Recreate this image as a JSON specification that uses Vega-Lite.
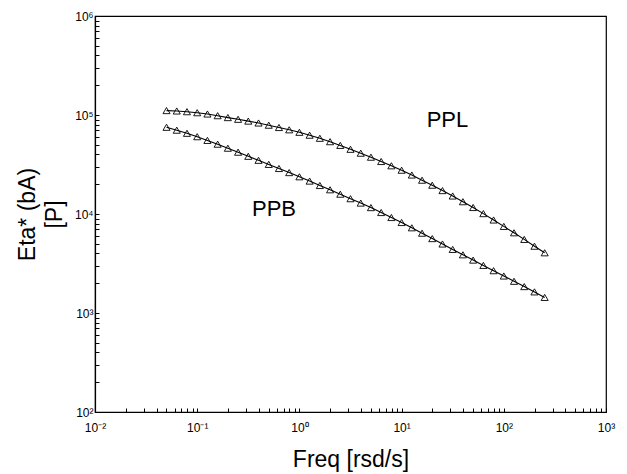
{
  "$schema": "https://vega.github.io/schema/vega-lite/v6.json",
  "width": 511,
  "height": 396,
  "autosize": "none",
  "padding": {"left": 95, "top": 16, "right": 21, "bottom": 62},
  "background": "white",
  "config": {
    "view": {"stroke": "black", "strokeWidth": 1.2},
    "font": "Liberation Sans",
    "axis": {
      "grid": false,
      "domainColor": "black",
      "domainWidth": 1.2,
      "tickColor": "black",
      "tickSize": -4,
      "tickWidth": 1,
      "labelColor": "black",
      "labelFont": "Liberation Sans",
      "labelFontSize": 12,
      "labelFlush": false,
      "labelOverlap": false,
      "labelBound": false,
      "titleFont": "Liberation Sans",
      "titleFontSize": 23,
      "titleFontWeight": "normal",
      "titleColor": "black"
    }
  },
  "datasets": {
    "curves": [
      {"series": "PPL", "freq": 0.0501, "eta": 110800},
      {"series": "PPL", "freq": 0.0631, "eta": 109750},
      {"series": "PPL", "freq": 0.0794, "eta": 107970},
      {"series": "PPL", "freq": 0.1, "eta": 105480},
      {"series": "PPL", "freq": 0.1259, "eta": 102350},
      {"series": "PPL", "freq": 0.1585, "eta": 98380},
      {"series": "PPL", "freq": 0.1995, "eta": 94130},
      {"series": "PPL", "freq": 0.2512, "eta": 90480},
      {"series": "PPL", "freq": 0.3162, "eta": 86770},
      {"series": "PPL", "freq": 0.3981, "eta": 83020},
      {"series": "PPL", "freq": 0.5012, "eta": 78890},
      {"series": "PPL", "freq": 0.631, "eta": 74760},
      {"series": "PPL", "freq": 0.7943, "eta": 70870},
      {"series": "PPL", "freq": 1, "eta": 66880},
      {"series": "PPL", "freq": 1.259, "eta": 62520},
      {"series": "PPL", "freq": 1.585, "eta": 58170},
      {"series": "PPL", "freq": 1.995, "eta": 53760},
      {"series": "PPL", "freq": 2.512, "eta": 49310},
      {"series": "PPL", "freq": 3.162, "eta": 45040},
      {"series": "PPL", "freq": 3.981, "eta": 41130},
      {"series": "PPL", "freq": 5.012, "eta": 37480},
      {"series": "PPL", "freq": 6.31, "eta": 33910},
      {"series": "PPL", "freq": 7.943, "eta": 30690},
      {"series": "PPL", "freq": 10, "eta": 27700},
      {"series": "PPL", "freq": 12.59, "eta": 24770},
      {"series": "PPL", "freq": 15.85, "eta": 21950},
      {"series": "PPL", "freq": 19.95, "eta": 19540},
      {"series": "PPL", "freq": 25.12, "eta": 17240},
      {"series": "PPL", "freq": 31.62, "eta": 15200},
      {"series": "PPL", "freq": 39.81, "eta": 13310},
      {"series": "PPL", "freq": 50.12, "eta": 11630},
      {"series": "PPL", "freq": 63.1, "eta": 10090},
      {"series": "PPL", "freq": 79.43, "eta": 8700},
      {"series": "PPL", "freq": 100, "eta": 7493},
      {"series": "PPL", "freq": 125.9, "eta": 6459},
      {"series": "PPL", "freq": 158.5, "eta": 5538},
      {"series": "PPL", "freq": 199.5, "eta": 4727},
      {"series": "PPL", "freq": 251.2, "eta": 4057},
      {"series": "PPB", "freq": 0.0501, "eta": 75130},
      {"series": "PPB", "freq": 0.0631, "eta": 70240},
      {"series": "PPB", "freq": 0.0794, "eta": 65350},
      {"series": "PPB", "freq": 0.1, "eta": 60380},
      {"series": "PPB", "freq": 0.1259, "eta": 55390},
      {"series": "PPB", "freq": 0.1585, "eta": 50720},
      {"series": "PPB", "freq": 0.1995, "eta": 46180},
      {"series": "PPB", "freq": 0.2512, "eta": 42100},
      {"series": "PPB", "freq": 0.3162, "eta": 38260},
      {"series": "PPB", "freq": 0.3981, "eta": 34860},
      {"series": "PPB", "freq": 0.5012, "eta": 31700},
      {"series": "PPB", "freq": 0.631, "eta": 28820},
      {"series": "PPB", "freq": 0.7943, "eta": 26190},
      {"series": "PPB", "freq": 1, "eta": 23760},
      {"series": "PPB", "freq": 1.259, "eta": 21500},
      {"series": "PPB", "freq": 1.585, "eta": 19410},
      {"series": "PPB", "freq": 1.995, "eta": 17560},
      {"series": "PPB", "freq": 2.512, "eta": 15850},
      {"series": "PPB", "freq": 3.162, "eta": 14270},
      {"series": "PPB", "freq": 3.981, "eta": 12890},
      {"series": "PPB", "freq": 5.012, "eta": 11600},
      {"series": "PPB", "freq": 6.31, "eta": 10350},
      {"series": "PPB", "freq": 7.943, "eta": 9218},
      {"series": "PPB", "freq": 10, "eta": 8206},
      {"series": "PPB", "freq": 12.59, "eta": 7255},
      {"series": "PPB", "freq": 15.85, "eta": 6400},
      {"series": "PPB", "freq": 19.95, "eta": 5643},
      {"series": "PPB", "freq": 25.12, "eta": 4977},
      {"series": "PPB", "freq": 31.62, "eta": 4389},
      {"series": "PPB", "freq": 39.81, "eta": 3871},
      {"series": "PPB", "freq": 50.12, "eta": 3422},
      {"series": "PPB", "freq": 63.1, "eta": 3026},
      {"series": "PPB", "freq": 79.43, "eta": 2675},
      {"series": "PPB", "freq": 100, "eta": 2364},
      {"series": "PPB", "freq": 125.9, "eta": 2090},
      {"series": "PPB", "freq": 158.5, "eta": 1848},
      {"series": "PPB", "freq": 199.5, "eta": 1634},
      {"series": "PPB", "freq": 251.2, "eta": 1437}
    ],
    "labels": [
      {"label": "PPL", "freq": 28.1, "eta": 89000},
      {"label": "PPB", "freq": 0.564, "eta": 11310}
    ]
  },
  "encoding": {
    "x": {
      "field": "freq",
      "type": "quantitative",
      "scale": {"type": "log", "domain": [0.01, 1000]},
      "axis": {
        "title": "Freq [rsd/s]",
        "titlePadding": 15,
        "labelPadding": 14,
        "values": [0.01,0.02,0.03,0.04,0.05,0.06,0.07,0.08,0.09,0.1,0.2,0.3,0.4,0.5,0.6,0.7,0.8,0.9,1,2,3,4,5,6,7,8,9,10,20,30,40,50,60,70,80,90,100,200,300,400,500,600,700,800,900,1000],
        "labelExpr": "datum.value == 0.01 ? '10⁻²' : datum.value == 0.1 ? '10⁻¹' : datum.value == 1 ? '10⁰' : datum.value == 10 ? '10¹' : datum.value == 100 ? '10²' : datum.value == 1000 ? '10³' : ''"
      }
    },
    "y": {
      "field": "eta",
      "type": "quantitative",
      "scale": {"type": "log", "domain": [100, 1000000]},
      "axis": {
        "title": ["Eta* (bA)", "[P]"],
        "titlePadding": 8,
        "titleLineHeight": 27,
        "labelPadding": 6,
        "values": [100,200,300,400,500,600,700,800,900,1000,2000,3000,4000,5000,6000,7000,8000,9000,10000,20000,30000,40000,50000,60000,70000,80000,90000,100000,200000,300000,400000,500000,600000,700000,800000,900000,1000000],
        "labelExpr": "datum.value == 100 ? '10²' : datum.value == 1000 ? '10³' : datum.value == 10000 ? '10⁴' : datum.value == 100000 ? '10⁵' : datum.value == 1000000 ? '10⁶' : ''"
      }
    }
  },
  "layer": [
    {
      "data": {"name": "curves"},
      "mark": {"type": "line", "color": "black", "strokeWidth": 1.1},
      "encoding": {"detail": {"field": "series"}}
    },
    {
      "data": {"name": "curves"},
      "mark": {"type": "point", "shape": "triangle-up", "filled": false, "color": "black", "size": 50, "strokeWidth": 0.9, "opacity": 1}
    },
    {
      "data": {"name": "labels"},
      "mark": {"type": "text", "fontSize": 22, "font": "Liberation Sans", "color": "black"},
      "encoding": {"text": {"field": "label"}}
    }
  ]
}
